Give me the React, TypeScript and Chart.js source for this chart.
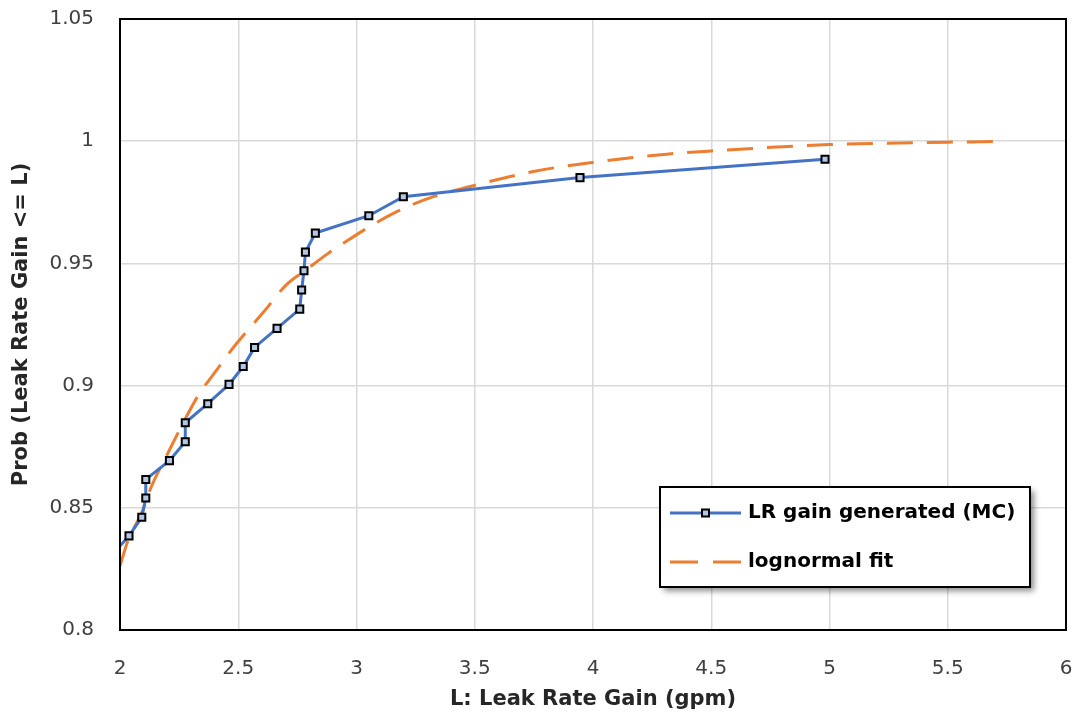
import React, { useEffect, useRef } from "react";
import { Chart, registerables } from "chart.js";

Chart.register(...registerables);

// Monte Carlo generated empirical CDF points
const mcX = [1.966, 2.038, 2.092, 2.109, 2.109, 2.209, 2.276, 2.276, 2.371, 2.461, 2.521, 2.569, 2.664, 2.76, 2.768, 2.778, 2.784, 2.826, 3.052, 3.198, 3.945, 4.981];
const mcY = [0.8307, 0.8385, 0.8461, 0.854, 0.8616, 0.8693, 0.877, 0.8848, 0.8926, 0.9005, 0.9078, 0.9156, 0.9234, 0.9313, 0.9391, 0.947, 0.9546, 0.9624, 0.9695, 0.9773, 0.9851, 0.9926];

// lognormal fit curve
const fitX = [2.0, 2.035, 2.092, 2.134, 2.197, 2.261, 2.331, 2.402, 2.486, 2.606, 2.705, 2.789, 2.874, 2.944, 3.043, 3.156, 3.325, 3.494, 3.748, 3.998, 4.312, 4.5, 5.0, 5.5, 5.72];
const fitY = [0.8262, 0.8369, 0.848, 0.859, 0.8713, 0.8836, 0.896, 0.9055, 0.9164, 0.93, 0.9414, 0.9475, 0.9537, 0.9582, 0.9643, 0.9705, 0.9773, 0.9818, 0.9876, 0.9913, 0.9947, 0.996, 0.9986, 0.9996, 0.9999];

const seriesNames = ["LR gain generated (MC)", "lognormal fit"];
const xTitle = "L: Leak Rate Gain (gpm)";
const yTitle = "Prob (Leak Rate Gain <= L)";

const BLUE = "#4472C4";
const ORANGE = "#ED7D31";
const MARKER_FILL = "#B4C7E7";
const FONT = "'DejaVu Sans', sans-serif";

const frameAndLegend = {
  id: "frameAndLegend",
  afterDraw(chart: any) {
    const { ctx, chartArea } = chart;
    ctx.save();
    // plot frame
    ctx.strokeStyle = "#000";
    ctx.lineWidth = 2;
    ctx.strokeRect(chartArea.left, chartArea.top, chartArea.right - chartArea.left, chartArea.bottom - chartArea.top);

    // legend box
    const bx = 660, by = 487, bw = 370, bh = 100;
    ctx.save();
    ctx.shadowColor = "rgba(0,0,0,0.45)";
    ctx.shadowBlur = 6;
    ctx.shadowOffsetX = 4;
    ctx.shadowOffsetY = 4;
    ctx.fillStyle = "#fff";
    ctx.fillRect(bx, by, bw, bh);
    ctx.restore();
    ctx.strokeStyle = "#000";
    ctx.lineWidth = 2;
    ctx.strokeRect(bx, by, bw, bh);

    const rows = [by + 26, by + 75];
    // row 1
    ctx.strokeStyle = BLUE;
    ctx.lineWidth = 3;
    ctx.setLineDash([]);
    ctx.beginPath();
    ctx.moveTo(670, rows[0]);
    ctx.lineTo(741, rows[0]);
    ctx.stroke();
    ctx.fillStyle = MARKER_FILL;
    ctx.fillRect(702, rows[0] - 3.5, 7, 7);
    ctx.strokeStyle = "#000";
    ctx.lineWidth = 2;
    ctx.strokeRect(702, rows[0] - 3.5, 7, 7);
    // row 2
    ctx.strokeStyle = ORANGE;
    ctx.lineWidth = 3;
    ctx.beginPath();
    ctx.moveTo(670, rows[1]);
    ctx.lineTo(698, rows[1]);
    ctx.moveTo(713, rows[1]);
    ctx.lineTo(741, rows[1]);
    ctx.stroke();

    ctx.fillStyle = "#000";
    ctx.font = `bold 20px ${FONT}`;
    ctx.textBaseline = "middle";
    ctx.textAlign = "left";
    ctx.fillText(seriesNames[0], 748, rows[0]);
    ctx.fillText(seriesNames[1], 748, rows[1]);
    ctx.restore();
  },
};

const zeroPad = (s: any) => {
  s.paddingTop = 0;
  s.paddingBottom = 0;
  s.paddingLeft = 0;
  s.paddingRight = 0;
};

export default function App() {
  const ref = useRef<HTMLCanvasElement>(null);
  useEffect(() => {
    document.body.style.margin = "0";
    const chart = new Chart(ref.current as HTMLCanvasElement, {
      type: "scatter",
      data: {
        datasets: [
          {
            label: seriesNames[0],
            data: mcX.map((x, i) => ({ x, y: mcY[i] })),
            showLine: true,
            borderColor: BLUE,
            borderWidth: 3,
            pointStyle: "rect",
            pointRadius: 5,
            pointBorderWidth: 2,
            pointBorderColor: "#000",
            pointBackgroundColor: MARKER_FILL,
            tension: 0,
            order: 1,
          },
          {
            label: seriesNames[1],
            data: fitX.map((x, i) => ({ x, y: fitY[i] })),
            showLine: true,
            borderColor: ORANGE,
            borderWidth: 3,
            borderDash: [26, 14],
            pointRadius: 0,
            cubicInterpolationMode: "monotone",
            order: 2,
          },
        ],
      },
      options: {
        animation: false,
        responsive: false,
        layout: { padding: { left: 0, right: 14, top: 19, bottom: 0 } },
        plugins: { legend: { display: false }, tooltip: { enabled: false } },
        scales: {
          x: {
            type: "linear",
            min: 2,
            max: 6,
            ticks: {
              stepSize: 0.5,
              padding: 27,
              color: "#404040",
              font: { family: FONT, size: 20 },
              callback: (v: any) => String(Math.round(Number(v) * 100) / 100),
            },
            grid: { color: "#D9D9D9", lineWidth: 1.5, drawTicks: false },
            border: { display: false },
            title: {
              display: true,
              text: xTitle,
              color: "#262626",
              font: { family: FONT, size: 21, weight: "bold" },
              padding: { top: 4, bottom: 16 },
            },
            afterFit: (s: any) => { s.height = 98; zeroPad(s); },
          },
          y: {
            type: "linear",
            min: 0.8,
            max: 1.05,
            ticks: {
              stepSize: 0.05,
              padding: 26,
              color: "#404040",
              font: { family: FONT, size: 20 },
              callback: (v: any) => String(Math.round(Number(v) * 100) / 100),
            },
            grid: { color: "#D9D9D9", lineWidth: 1.5, drawTicks: false },
            border: { display: false },
            title: {
              display: true,
              text: yTitle,
              color: "#262626",
              font: { family: FONT, size: 21, weight: "bold" },
              padding: { top: 9, bottom: 0 },
            },
            afterFit: (s: any) => { s.width = 120; zeroPad(s); },
          },
        },
      },
      plugins: [frameAndLegend],
    });
    return () => chart.destroy();
  }, []);
  return (
    <div style={{ position: "absolute", left: 0, top: 0, width: 1080, height: 728, background: "#fff" }}>
      <canvas ref={ref} width={1080} height={728} style={{ width: 1080, height: 728 }} />
    </div>
  );
}
